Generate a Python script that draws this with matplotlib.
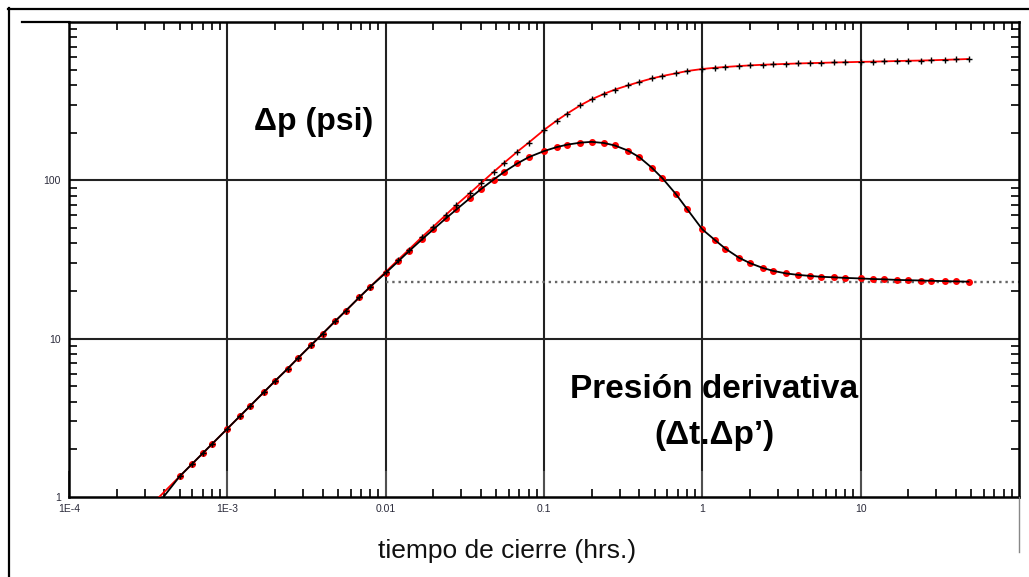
import numpy as np
import matplotlib
matplotlib.use('Agg')
import matplotlib.pyplot as plt
from matplotlib.lines import Line2D
from matplotlib.ticker import LogLocator, NullFormatter, FixedLocator, FixedFormatter

plt.rcParams['font.family'] = ['Liberation Sans', 'DejaVu Sans']

# shut-in time (hrs)
t = [0.0005, 0.0006, 0.0007, 0.0008,
     0.001, 0.0012, 0.0014, 0.0017, 0.002, 0.0024, 0.0028, 0.0034, 0.004, 0.0048, 0.0056, 0.0068, 0.008,
     0.01, 0.012, 0.014, 0.017, 0.02, 0.024, 0.028, 0.034, 0.04, 0.048, 0.056, 0.068, 0.08,
     0.1, 0.12, 0.14, 0.17, 0.2, 0.24, 0.28, 0.34, 0.4, 0.48, 0.56, 0.68, 0.8,
     1.0, 1.2, 1.4, 1.7, 2.0, 2.4, 2.8, 3.4, 4.0, 4.8, 5.6, 6.8, 8.0,
     10, 12, 14, 17, 20, 24, 28, 34, 40, 48]

# pressure change (psi)
dp = [1.35, 1.62, 1.89, 2.16,
      2.7, 3.24, 3.78, 4.59, 5.4, 6.45, 7.55, 9.15, 10.75, 12.9, 15.0, 18.2, 21.3,
      26.4, 31.5, 36.5, 44, 51, 60.5, 70, 83, 96, 113, 129, 152, 173,
      208, 238, 264, 298, 325, 352, 374, 398, 418, 440, 456, 474, 490,
      505, 514, 520, 527, 532, 537, 540, 544, 547, 550, 552, 555, 557,
      560, 562, 564, 567, 569, 571, 573, 577, 580, 584]

# pressure derivative (dt*dp')
der = [1.35, 1.62, 1.89, 2.16,
       2.7, 3.24, 3.78, 4.59, 5.4, 6.45, 7.55, 9.15, 10.75, 12.9, 15.0, 18.2, 21.3,
       26.0, 30.8, 35.6, 42.5, 49, 57.5, 65.5, 77, 88, 101, 113, 128, 140,
       153, 162, 168, 173, 175, 172, 166, 154, 140, 120, 103, 82, 66,
       49, 42, 37, 32.5, 30, 28, 26.8, 25.8, 25.3, 24.9, 24.6, 24.4, 24.2,
       24.0, 23.8, 23.7, 23.5, 23.4, 23.3, 23.2, 23.1, 23.0, 22.9]

# early start of the model lines
t_p0, dp0 = 0.00036, 0.97
t_d0, der0 = 0.000395, 1.0

plateau = 22.8

xticks = [1e-4, 1e-3, 1e-2, 1e-1, 1, 10]
xlabels = ['1E-4', '1E-3', '0.01', '0.1', '1', '10']
yticks = [1, 10, 100]
ylabels = ['1', '10', '100']

fig = plt.figure(figsize=(10.29, 5.77), dpi=100)
ax = fig.add_axes([69/1029, 80/577, 950/1029, 475/577])

ax.set_xscale('log')
ax.set_yscale('log')
ax.set_xlim(1e-4, 100)
ax.set_ylim(1, 1000)

# grid at decades
for xv in [1e-3, 1e-2, 1e-1, 1, 10]:
    ax.axvline(xv, color='#222222', lw=1.5, zorder=1)
for yv in [10, 100]:
    ax.axhline(yv, color='#222222', lw=1.5, zorder=1)

ax.plot([0.01, 100], [plateau, plateau], ls=':', color='#666666', lw=1.7, zorder=2)

# pressure: red model line, black + data
ax.plot([t_p0] + t, [dp0] + dp, color='red', lw=1.3, zorder=3)
ax.plot(t, dp, ls='none', marker='+', color='black', ms=4.5, mew=1.0, zorder=4)

# derivative: red circle data, black model line
ax.plot(t, der, ls='none', marker='o', color='red', ms=4, zorder=3)
ax.plot([t_d0] + t, [der0] + der, color='black', lw=1.3, zorder=4)

for s in ax.spines.values():
    s.set_linewidth(1.8)
    s.set_color('black')

ax.xaxis.set_major_locator(FixedLocator(xticks))
ax.xaxis.set_major_formatter(FixedFormatter(xlabels))
ax.yaxis.set_major_locator(FixedLocator(yticks))
ax.yaxis.set_major_formatter(FixedFormatter(ylabels))
ax.xaxis.set_minor_locator(LogLocator(base=10, subs=np.arange(2, 10), numticks=20))
ax.yaxis.set_minor_locator(LogLocator(base=10, subs=np.arange(2, 10), numticks=20))
ax.xaxis.set_minor_formatter(NullFormatter())
ax.yaxis.set_minor_formatter(NullFormatter())

ax.tick_params(which='minor', direction='in', length=5.5, width=1.2,
               top=True, right=True, bottom=True, left=True)
ax.tick_params(axis='x', which='major', direction='in', length=19, width=1.3,
               color='#555555', top=False, labelsize=7.5, labelcolor='#2a2a3a', pad=5)
ax.tick_params(axis='y', which='major', direction='in', length=0, right=False,
               labelsize=7.5, labelcolor='#2a2a3a', pad=6)

ax.text(0.257, 0.79, '\u0394p (psi)', transform=ax.transAxes, ha='center', va='center',
        fontsize=23, fontweight='bold')
ax.text(0.679, 0.227, 'Presión derivativa', transform=ax.transAxes, ha='center',
        va='center', fontsize=24, fontweight='bold')
ax.text(0.679, 0.13, '(\u0394t.\u0394p\u2019)', transform=ax.transAxes, ha='center',
        va='center', fontsize=24, fontweight='bold')

fig.text(507/1029, 1 - 551/577, 'tiempo de cierre (hrs.)', ha='center', va='center',
         fontsize=19, color='#111111')

# frame and extra lines around the plot
fig.add_artist(Line2D([8.5/1029, 8.5/1029], [0, 1 - 8/577], color='black', lw=1.6))
fig.add_artist(Line2D([8/1029, 1], [1 - 9/577, 1 - 9/577], color='black', lw=1.6))
fig.add_artist(Line2D([22/1029, 69/1029], [1 - 22/577, 1 - 22/577], color='black', lw=1.6))
fig.add_artist(Line2D([1019/1029, 1019/1029], [1 - 552/577, 80/577], color='#888888', lw=1.0))

plt.savefig('out.png', dpi=100)
